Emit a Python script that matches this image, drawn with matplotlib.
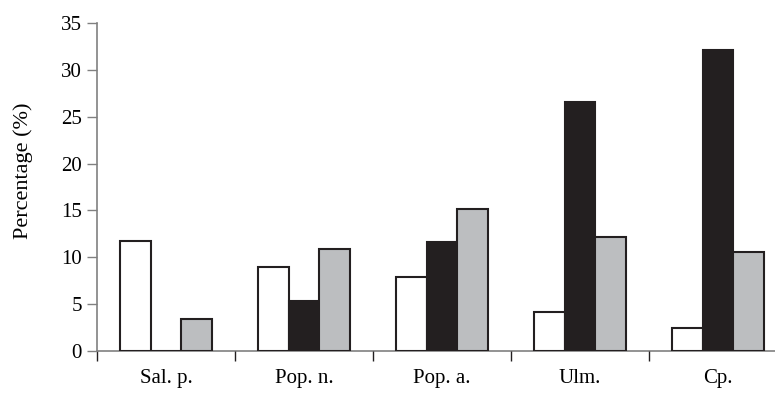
import numpy as np
import matplotlib
matplotlib.use('Agg')
import matplotlib.pyplot as plt

plt.rcParams['font.family'] = ['Liberation Serif', 'DejaVu Serif']

species = ['Sal. p.', 'Pop. n.', 'Pop. a.', 'Ulm.', 'Cp.']
white_vals = [11.7, 9.0, 7.9, 4.1, 2.4]
black_vals = [0.0, 5.3, 11.6, 26.6, 32.1]
gray_vals = [3.4, 10.9, 15.1, 12.2, 10.5]

edge = '#231f20'
axis_col = '#808080'

fig = plt.figure(figsize=(7.75, 3.94), dpi=100)
ax = fig.add_axes([0.1252, 0.1099, 0.8903, 0.831])

x = np.arange(len(species))
w = 0.22
ax.bar(x - w, white_vals, w, color='white', edgecolor=edge, linewidth=1.5)
ax.bar(x, black_vals, w, color=edge, edgecolor=edge, linewidth=1.5)
ax.bar(x + w, gray_vals, w, color='#bcbec0', edgecolor=edge, linewidth=1.5)

ax.set_xlim(-0.5, len(species) - 0.5)
ax.set_ylim(0, 35)
ax.set_yticks(range(0, 36, 5))
ax.set_xticks(x)
ax.set_xticklabels(species)
ax.set_xticks(np.arange(-0.5, len(species), 1), minor=True)
ax.tick_params(axis='x', which='major', length=0, pad=13, labelsize=15)
ax.tick_params(axis='x', which='minor', length=7, width=1, color=edge, direction='out')
ax.tick_params(axis='y', length=7, width=1, color=axis_col, labelsize=15, pad=4)

for s in ['top', 'right']:
    ax.spines[s].set_visible(False)
for s in ['left', 'bottom']:
    ax.spines[s].set_color(axis_col)
    ax.spines[s].set_linewidth(1.2)
ax.spines['bottom'].set_zorder(0)

ax.set_ylabel('Percentage (%)', fontsize=16)
ax.yaxis.set_label_coords(-0.093, 0.55)

fig.savefig('out.png', dpi=100)
